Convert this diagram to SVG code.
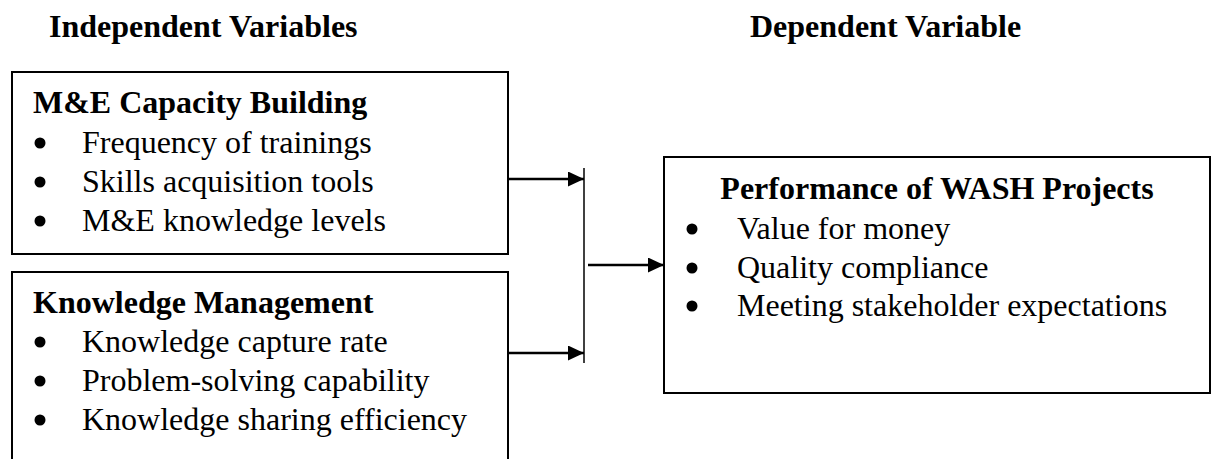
<svg xmlns="http://www.w3.org/2000/svg" width="1211" height="459" viewBox="0 0 1211 459">
<style>
text{font-family:"Liberation Serif","Times New Roman",serif;font-size:32px;fill:#000}
.b{font-weight:bold}
.box{fill:#fff;stroke:#000;stroke-width:2}
.dot{fill:#000}
.ln{stroke:#000;stroke-width:2.5;fill:none}
</style>
<defs>
<marker id="ah" markerWidth="16" markerHeight="15" refX="16" refY="7.5" orient="auto" markerUnits="userSpaceOnUse">
<path d="M0,0 L16,7.5 L0,15 Z" fill="#000"/>
</marker>
</defs>
<rect width="1211" height="459" fill="#fff"/>
<g id="headings">
<text class="b" x="49" y="37">Independent Variables</text>
<text class="b" x="750" y="37">Dependent Variable</text>
</g>
<g id="node-capacity">
<rect class="box" x="12" y="72" width="496" height="182"/>
<text class="b" x="33" y="113">M&amp;E Capacity Building</text>
<circle class="dot" cx="40" cy="143" r="5.5"/>
<text x="82" y="153">Frequency of trainings</text>
<circle class="dot" cx="40" cy="182" r="5.5"/>
<text x="82" y="192">Skills acquisition tools</text>
<circle class="dot" cx="40" cy="221" r="5.5"/>
<text x="82" y="231">M&amp;E knowledge levels</text>
</g>
<g id="node-knowledge">
<rect class="box" x="12" y="272" width="496" height="200"/>
<text class="b" x="33" y="313">Knowledge Management</text>
<circle class="dot" cx="40" cy="342" r="5.5"/>
<text x="82" y="352">Knowledge capture rate</text>
<circle class="dot" cx="40" cy="381" r="5.5"/>
<text x="82" y="391">Problem-solving capability</text>
<circle class="dot" cx="40" cy="420" r="5.5"/>
<text x="82" y="430">Knowledge sharing efficiency</text>
</g>
<g id="node-performance">
<rect class="box" x="664" y="157" width="546" height="236"/>
<text class="b" x="937" y="199" text-anchor="middle">Performance of WASH Projects</text>
<circle class="dot" cx="692" cy="229" r="5.5"/>
<text x="737" y="239">Value for money</text>
<circle class="dot" cx="692" cy="268" r="5.5"/>
<text x="737" y="278">Quality compliance</text>
<circle class="dot" cx="692" cy="306" r="5.5"/>
<text x="737" y="316">Meeting stakeholder expectations</text>
</g>
<g id="connectors">
<line x1="584" y1="168" x2="584" y2="363" stroke="#000" stroke-width="1.5"/>
<line class="ln" x1="508" y1="179" x2="584" y2="179" marker-end="url(#ah)"/>
<line class="ln" x1="508" y1="353" x2="584" y2="353" marker-end="url(#ah)"/>
<line class="ln" x1="588" y1="265" x2="664" y2="265" marker-end="url(#ah)"/>
</g>
</svg>
